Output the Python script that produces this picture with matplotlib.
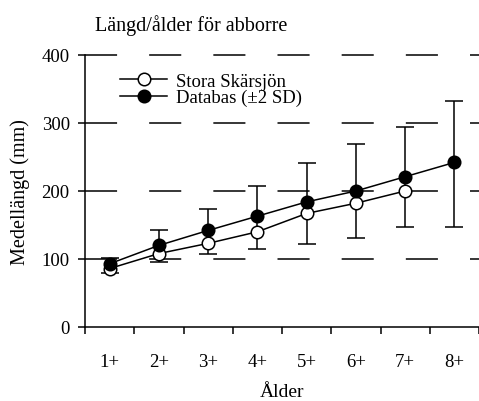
import matplotlib
matplotlib.use("Agg")
import matplotlib.pyplot as plt
import numpy as np

ages = ["1+", "2+", "3+", "4+", "5+", "6+", "7+", "8+"]
stora = [86, 108, 123, 140, 167, 182, 200]
databas = [93, 120, 142, 163, 184, 200, 221, 242]
databas_low = [79, 96, 108, 114, 122, 131, 147, 147]
databas_high = [101, 143, 173, 208, 241, 269, 294, 333]
yticks = [0, 100, 200, 300, 400]

plt.rcParams['font.family'] = ['Liberation Serif', 'DejaVu Serif']

fig = plt.figure(figsize=(4.79, 4.02), dpi=100)
ax = fig.add_axes([85/479, (402-328)/402, (479-85)/479, (328-56)/402])

x_all = np.arange(len(ages)) + 0.5
x_st = x_all[:len(stora)]

for v in yticks[1:]:
    ax.axhline(v, color='black', lw=1.1, linestyle=(0, (21, 21)), zorder=0, clip_on=False)

db = np.array(databas)
yerr = np.vstack([db - np.array(databas_low), np.array(databas_high) - db])
ax.errorbar(x_all, databas, yerr=yerr, fmt='none', ecolor='black', elinewidth=1.1,
            capsize=6.8, capthick=1.1, zorder=2)
ax.plot(x_st, stora, color='black', lw=1.1, marker='o', ms=9, mfc='white', mec='black',
        mew=1.1, label='Stora Skärsjön', zorder=3)
ax.plot(x_all, databas, color='black', lw=1.1, marker='o', ms=9, mfc='black', mec='black',
        mew=1.1, label='Databas (±2 SD)', zorder=4)

ax.set_xlim(0, len(ages))
ax.set_ylim(0, 400)
ax.set_yticks(yticks)
ax.set_yticklabels([str(v) for v in yticks], fontsize=13.5)
ax.set_xticks(np.arange(len(ages) + 1))
ax.set_xticklabels([])
ax.set_xticks(x_all, minor=True)
ax.set_xticklabels(ages, minor=True, fontsize=13.5)
ax.tick_params(axis='x', which='minor', length=0, pad=19)
ax.tick_params(axis='both', which='major', length=5, width=1.1, direction='out')
ax.tick_params(axis='y', pad=6)

for s in ['top', 'right']:
    ax.spines[s].set_visible(False)
for s in ['left', 'bottom']:
    ax.spines[s].set_linewidth(1.1)

ax.set_xlabel('Ålder', fontsize=14, labelpad=9)
ax.set_ylabel('Medellängd (mm)', fontsize=14.5, labelpad=8)
fig.text(95/479, 1 - 26/402, 'Längd/ålder för abborre', fontsize=14.5, va='center', ha='left')

leg = ax.legend(loc='upper left', bbox_to_anchor=(0.09, 0.935), frameon=False, fontsize=13.5,
                handlelength=2.5, handletextpad=0.45, labelspacing=-0.05, borderaxespad=0,
                borderpad=0)

fig.savefig('out.png', dpi=100)
